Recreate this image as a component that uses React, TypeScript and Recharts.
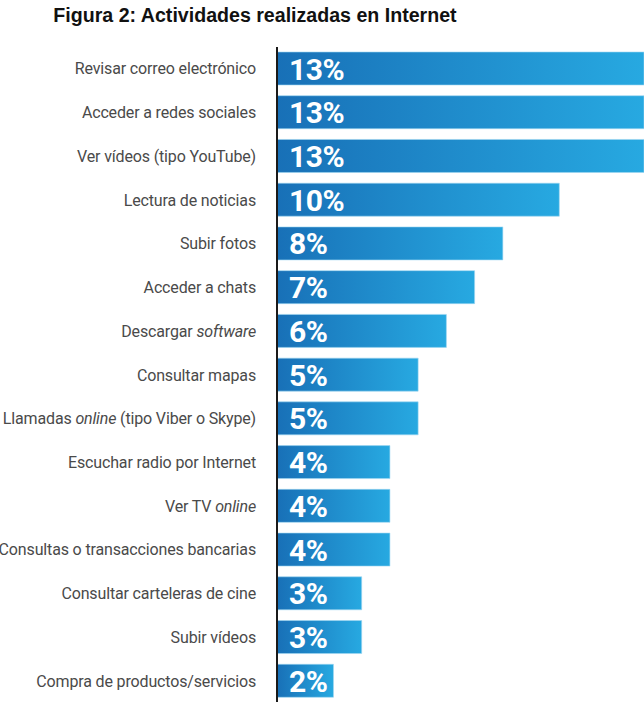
import { Bar, BarChart, LabelList, XAxis, YAxis } from "recharts";

const actividades = [
    "Revisar correo electrónico",
    "Acceder a redes sociales",
    "Ver vídeos (tipo YouTube)",
    "Lectura de noticias",
    "Subir fotos",
    "Acceder a chats",
    "Descargar *software*",
    "Consultar mapas",
    "Llamadas *online* (tipo Viber o Skype)",
    "Escuchar radio por Internet",
    "Ver TV *online*",
    "Consultas o transacciones bancarias",
    "Consultar carteleras de cine",
    "Subir vídeos",
    "Compra de productos/servicios",
];

const porcentajes = [13, 13, 13, 10, 8, 7, 6, 5, 5, 4, 4, 4, 3, 3, 2];

const data = actividades.map((name, i) => ({ name, value: porcentajes[i] }));

// "*texto*" marks the italic parts of a label
const CategoryTick = ({ x, y, payload }: any) => {
    const parts = String(payload.value).split("*");
    return (
        <text
            x={x}
            y={y}
            dy={5.5}
            textAnchor="end"
            fill="#4a4a4a"
            fontFamily="Roboto, sans-serif"
            fontSize={16}
            letterSpacing={-0.15}
        >
            {parts.map((p, i) => (
                <tspan key={i} fontStyle={i % 2 === 1 ? "italic" : "normal"}>
                    {p}
                </tspan>
            ))}
        </text>
    );
};

const ValueLabel = ({ x, y, height, value }: any) => (
    <text
        x={x + 12}
        y={y + height / 2 + 11}
        fill="#ffffff"
        fontFamily="Roboto, sans-serif"
        fontWeight={700}
        fontSize={30}
        letterSpacing={-0.5}
    >
        {value}%
    </text>
);

const App = () => {
    return (
        <div
            style={{
                position: "absolute",
                left: 0,
                top: 0,
                width: 644,
                height: 702,
                overflow: "hidden",
                background: "#fff",
            }}
        >
            <div
                style={{
                    position: "absolute",
                    top: 4,
                    left: 0,
                    width: 644,
                    textAlign: "center",
                    paddingRight: 134,
                    boxSizing: "border-box",
                    fontFamily: "'Liberation Sans', Arial, sans-serif",
                    fontWeight: 700,
                    fontSize: 19.6,
                    color: "#111",
                }}
            >
                Figura 2: Actividades realizadas en Internet
            </div>
            <BarChart
                width={644}
                height={704}
                data={data}
                layout="vertical"
                margin={{ top: 47, right: 0, bottom: 1, left: 0 }}
                barSize={33}
            >
                <defs>
                    <linearGradient id="barGrad" x1="0" y1="0" x2="1" y2="0">
                        <stop offset="0%" stopColor="#1870b7" />
                        <stop offset="100%" stopColor="#27a9e1" />
                    </linearGradient>
                </defs>
                <XAxis type="number" domain={[0, 13]} hide />
                <YAxis
                    type="category"
                    dataKey="name"
                    width={277}
                    axisLine={{ stroke: "#1a1a1a", strokeWidth: 2 }}
                    tickLine={false}
                    tickSize={0}
                    tickMargin={21}
                    interval={0}
                    tick={<CategoryTick />}
                />
                <Bar
                    dataKey="value"
                    fill="url(#barGrad)"
                    stroke="#9fd6f2"
                    strokeWidth={0.6}
                    isAnimationActive={false}
                >
                    <LabelList dataKey="value" content={<ValueLabel />} />
                </Bar>
            </BarChart>
        </div>
    );
};

export default App;
